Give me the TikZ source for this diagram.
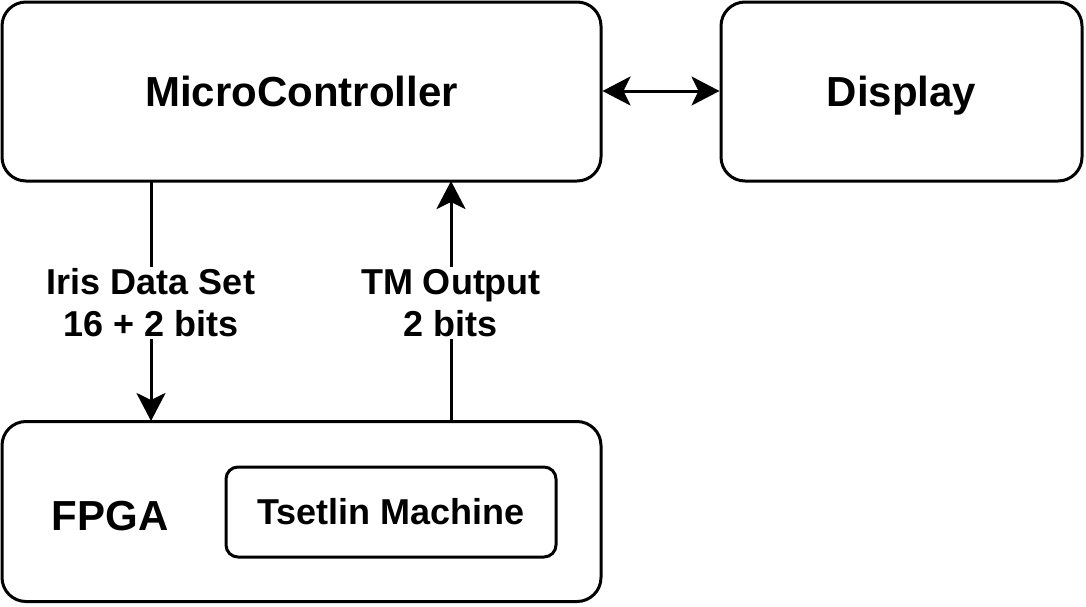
\documentclass[tikz,border=0pt]{standalone}
\usepackage{fontspec}
\setmainfont{Liberation Sans}
\usetikzlibrary{arrows.meta}

\begin{document}
\begin{tikzpicture}[x=0.5pt, y=-0.5pt, line width=1.5pt,
    block/.style={draw, rectangle, rounded corners=12pt, inner sep=0pt, font=\fontsize{21}{25}\selectfont\bfseries},
    lbl/.style={fill=white, align=center, inner sep=1pt, font=\fontsize{18}{21}\selectfont\bfseries},
    >={Stealth[length=14pt, width=14.5pt, inset=3.5pt]}]
  \useasboundingbox (0,0) rectangle (1086,606);
  \node[block, minimum width=299.5pt, minimum height=89.5pt, text height=15.5pt, text depth=1pt] (micro) at (301.5,91.5) {MicroController};
  \node[block, minimum width=180.5pt, minimum height=89.5pt, text height=15.5pt, text depth=1pt] (display) at (901.5,91.5) {Display};
  \node[block, minimum width=299.5pt, minimum height=90pt] (fpga) at (301.5,511.5) {};
  \node[font=\fontsize{21}{25}\selectfont\bfseries] (fpgalbl) at (110,516) {FPGA};
  \node[block, rounded corners=6pt, minimum width=165pt, minimum height=45pt, font=\fontsize{18}{21}\selectfont\bfseries] (tm) at (391,512) {Tsetlin Machine};

  \coordinate (dataout) at (151,181);
  \coordinate (datain) at (151,421);
  \coordinate (tmout) at (451,421);
  \coordinate (tmin) at (451,181);

  \draw[<->] (micro.east |- 0,91) -- (display.west |- 0,91);
  \draw[->] (dataout) -- node[lbl, midway, yshift=-1pt] (datalbl) {Iris Data Set\\16 + 2 bits} (datain);
  \draw[->] (tmout) -- node[lbl, midway, yshift=-1pt] (tmlbl) {TM Output\\2 bits} (tmin);
\end{tikzpicture}
\end{document}
